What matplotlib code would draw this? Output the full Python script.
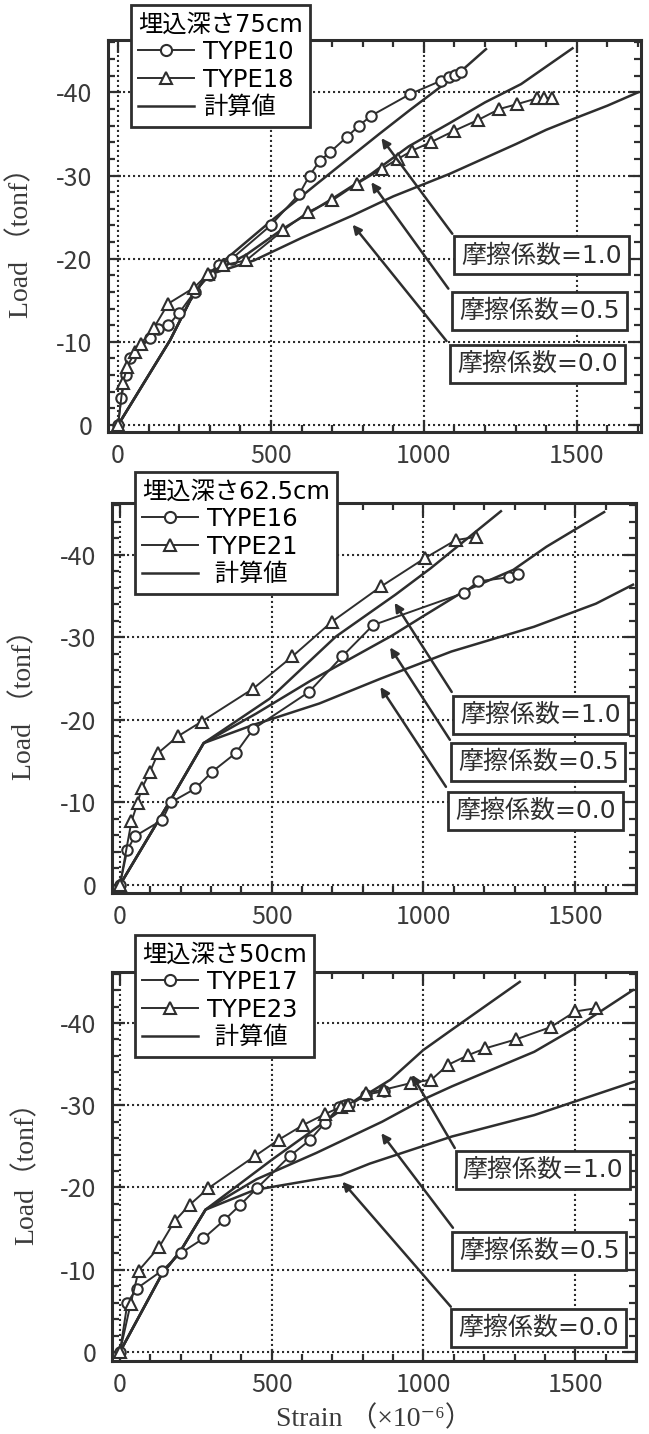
import matplotlib
matplotlib.use('Agg')
import matplotlib.pyplot as plt
from matplotlib.lines import Line2D
from matplotlib.ticker import MultipleLocator
from matplotlib.font_manager import FontProperties

# 1. DATA INPUT (strain x10^-6, load tonf; loads are negative = compression)

# --- panel 1: 埋込深さ75cm ---
p1_a_strain = [0, 10, 25, 40, 105, 131, 164, 200, 250, 300, 330, 372, 499, 593, 626, 660, 693, 747, 788, 828, 955, 1056, 1083, 1103, 1123]
p1_a_load = [0, -3.2, -6, -8, -10.5, -11.5, -12, -13.5, -16, -18, -19.2, -20, -24, -27.8, -30, -31.8, -32.8, -34.6, -36, -37.2, -39.8, -41.4, -41.8, -42.1, -42.4]
p1_b_strain = [0, 16, 29, 56, 75, 117, 164, 248, 295, 342, 419, 539, 620, 700, 781, 862, 915, 962, 1022, 1100, 1178, 1247, 1306, 1371, 1394, 1420]
p1_b_load = [0, -5, -7, -8.8, -9.8, -11.7, -14.6, -16.5, -18.2, -19.2, -19.8, -23.4, -25.6, -27, -29, -30.8, -32, -33, -34, -35.4, -36.7, -38, -38.6, -39.3, -39.3, -39.3]
p1_mu10_strain = [0, 170, 236, 290, 499, 650, 854, 955, 1063, 1123, 1203]
p1_mu10_load = [0, -10.2, -15, -18, -24.5, -29, -35, -37.9, -40.9, -42.6, -45.2]
p1_mu05_strain = [0, 170, 236, 290, 420, 539, 700, 828, 950, 1084, 1200, 1318, 1486]
p1_mu05_load = [0, -10.2, -15, -18, -20.5, -23.6, -27.2, -30.2, -33.5, -36.3, -38.8, -41, -45.3]
p1_mu00_strain = [0, 170, 236, 290, 445, 600, 767, 900, 1084, 1302, 1400, 1502, 1600, 1700]
p1_mu00_load = [0, -10.2, -15, -18, -19.8, -22.5, -25.2, -27.5, -30.2, -33.8, -35.5, -37, -38.4, -40]

# --- panel 2: 埋込深さ62.5cm ---
p2_a_strain = [0, 24, 49, 140, 167, 249, 303, 382, 439, 623, 732, 834, 1133, 1180, 1282, 1312]
p2_a_load = [0, -4.2, -5.9, -7.9, -10, -11.7, -13.7, -16, -18.9, -23.4, -27.7, -31.5, -35.4, -36.8, -37.3, -37.7]
p2_b_strain = [0, 38, 58, 72, 99, 126, 190, 269, 439, 568, 698, 861, 1004, 1106, 1174]
p2_b_load = [0, -7.7, -9.9, -11.7, -13.7, -16, -18, -19.8, -23.8, -27.7, -31.9, -36.2, -39.6, -41.8, -42.2]
p2_mu10_strain = [0, 167, 276, 494, 711, 908, 1024, 1255]
p2_mu10_load = [0, -10.3, -17.2, -22.6, -30.1, -35.2, -38.4, -45.3]
p2_mu05_strain = [0, 167, 276, 450, 630, 895, 1000, 1133, 1296, 1405, 1595]
p2_mu05_load = [0, -10.3, -17.2, -20.8, -24.8, -30.2, -32.6, -35.6, -38.2, -41, -45.2]
p2_mu00_strain = [0, 167, 276, 439, 657, 858, 1092, 1364, 1568, 1690]
p2_mu00_load = [0, -10.3, -17.2, -19.4, -22, -25, -28.3, -31.3, -34.1, -36.4]

# --- panel 3: 埋込深さ50cm ---
p3_a_strain = [0, 25, 55, 139, 200, 275, 343, 397, 451, 559, 627, 674, 722, 740, 755, 810, 871]
p3_a_load = [0, -6, -7.7, -9.9, -12, -13.8, -16, -17.9, -19.9, -23.8, -25.8, -27.8, -29.8, -30, -30.1, -31.3, -31.7]
p3_b_strain = [0, 35, 62, 130, 180, 230, 291, 444, 523, 604, 674, 728, 750, 810, 871, 959, 1026, 1080, 1148, 1202, 1304, 1419, 1500, 1568]
p3_b_load = [0, -5.8, -9.9, -12.8, -15.9, -17.9, -19.9, -23.8, -25.8, -27.6, -28.9, -29.8, -30, -31.5, -31.9, -32.7, -33.1, -34.9, -36.1, -36.9, -38, -39.5, -41.4, -41.8]
p3_mu10_strain = [0, 139, 200, 282, 498, 728, 891, 999, 1094, 1317]
p3_mu10_load = [0, -9.5, -12.3, -17.3, -23.3, -29.4, -33.1, -36.7, -39.2, -45]
p3_mu05_strain = [0, 139, 200, 282, 450, 647, 864, 999, 1094, 1365, 1500, 1690]
p3_mu05_load = [0, -9.5, -12.3, -17.3, -21, -24.2, -28, -30.7, -32.3, -36.5, -39.4, -44]
p3_mu00_strain = [0, 139, 200, 282, 444, 728, 823, 1094, 1365, 1697]
p3_mu00_load = [0, -9.5, -12.3, -17.3, -19.7, -21.5, -22.9, -26.2, -28.8, -32.9]

mu_labels = ['摩擦係数=1.0', '摩擦係数=0.5', '摩擦係数=0.0']
x_ticks = [0, 500, 1000, 1500]
y_ticks = [0, -10, -20, -30, -40]

# 2. PLOTTING SETUP
plt.rcParams['axes.unicode_minus'] = False
plt.rcParams['font.family'] = ['DejaVu Sans', 'Noto Sans CJK JP']
INK = '#2e2e2e'
W, H = 649, 1434
fig = plt.figure(figsize=(W / 100, H / 100), dpi=100)
fig.patch.set_facecolor('white')

leg_font = FontProperties(family=['DejaVu Sans', 'Noto Sans CJK JP'], size=17.5)
box_font = FontProperties(family=['DejaVu Sans', 'Noto Sans CJK JP'], size=18)
tick_family = ['Noto Sans CJK JP', 'DejaVu Sans']
serif_family = ['Liberation Serif', 'Noto Sans CJK JP', 'DejaVu Sans']


def px_rect(l, t, r, b):
    return [l / W, 1 - b / H, (r - l) / W, (b - t) / H]


panels = [
    dict(rect=px_rect(108, 40, 641, 432), xlim=(-33, 1710), ylim=(0.84, -46.3),
         title='埋込深さ75cm', names=['TYPE10', 'TYPE18', '計算値'],
         a=(p1_a_strain, p1_a_load), b=(p1_b_strain, p1_b_load),
         calc=[(p1_mu10_strain, p1_mu10_load), (p1_mu05_strain, p1_mu05_load), (p1_mu00_strain, p1_mu00_load)],
         leg=(131, 5), ylabel='Load （tonf）', ylab_x=-0.139,
         tips=[(861, -34.5), (828, -29.2), (767, -24.1)],
         tails=[(1093, -23), (1080, -16.4), (1074, -10.1)],
         boxes=[(1385, -20.4), (1378, -13.7), (1372, -7.3)]),
    dict(rect=px_rect(112, 503, 636, 893), xlim=(-26, 1700), ylim=(0.97, -46.3),
         title='埋込深さ62.5cm', names=['TYPE16', 'TYPE21', ' 計算値'],
         a=(p2_a_strain, p2_a_load), b=(p2_b_strain, p2_b_load),
         calc=[(p2_mu10_strain, p2_mu10_load), (p2_mu05_strain, p2_mu05_load), (p2_mu00_strain, p2_mu00_load)],
         leg=(135, 472), ylabel='Load （tonf）', ylab_x=-0.143,
         tips=[(905, -34.2), (890, -28.8), (858, -24)],
         tails=[(1093, -23.4), (1087, -17.6), (1074, -11.9)],
         boxes=[(1385, -20.6), (1378, -14.9), (1368, -9.0)]),
    dict(rect=px_rect(112, 972, 636, 1361), xlim=(-26, 1700), ylim=(1.1, -46.2),
         title='埋込深さ50cm', names=['TYPE17', 'TYPE23', ' 計算値'],
         a=(p3_a_strain, p3_a_load), b=(p3_b_strain, p3_b_load),
         calc=[(p3_mu10_strain, p3_mu10_load), (p3_mu05_strain, p3_mu05_load), (p3_mu00_strain, p3_mu00_load)],
         leg=(135, 935), ylabel='Load（tonf）', ylab_x=-0.139,
         tips=[(962, -33.7), (861, -26.6), (733, -20.7)],
         tails=[(1103, -24.8), (1097, -15.1), (1090, -5.5)],
         boxes=[(1394, -22.1), (1381, -12.3), (1378, -2.9)]),
]

# 3. PLOT GENERATION
for i, p in enumerate(panels):
    ax = fig.add_axes(p['rect'])
    ax.set_facecolor('white')

    # calculated curves
    for xs, ys in p['calc']:
        ax.plot(xs, ys, color=INK, lw=1.8, zorder=3)

    # measured series
    ax.plot(*p['a'], color=INK, lw=1.4, marker='o', ms=7.5, mfc='white', mec=INK, mew=1.5, zorder=4)
    ax.plot(*p['b'], color=INK, lw=1.4, marker='^', ms=8, mfc='white', mec=INK, mew=1.5, zorder=4)

    # arrows + labelled boxes
    for tip, tail, box, lab in zip(p['tips'], p['tails'], p['boxes'], mu_labels):
        ax.annotate('', xy=tip, xytext=tail,
                    arrowprops=dict(arrowstyle='-|>', color=INK, lw=1.8, mutation_scale=13, shrinkA=0, shrinkB=0),
                    zorder=5)
        ax.text(box[0], box[1], lab, ha='center', va='center', fontproperties=box_font, color=INK, zorder=6,
                bbox=dict(boxstyle='square,pad=0.28', fc='white', ec=INK, lw=2))

    # 4. CUSTOMIZATION
    ax.set_xlim(*p['xlim'])
    ax.set_ylim(*p['ylim'])
    ax.set_xticks(x_ticks)
    ax.set_yticks(y_ticks)
    ax.xaxis.set_minor_locator(MultipleLocator(100))
    ax.yaxis.set_minor_locator(MultipleLocator(2))
    ax.tick_params(which='both', direction='in', top=True, right=True, colors=INK, width=1.6)
    ax.tick_params(which='major', length=9, labelsize=18, pad=8)
    ax.tick_params(axis='y', which='major', pad=11)
    ax.tick_params(which='minor', length=5)
    for lab in ax.get_xticklabels() + ax.get_yticklabels():
        lab.set_fontfamily(tick_family)
        lab.set_color('#3a3a3a')
    for s in ax.spines.values():
        s.set_linewidth(2.2)
        s.set_color(INK)
    ax.grid(True, which='major', linestyle=(0, (1, 1.4)), color=INK, lw=1.5)
    ax.set_axisbelow(True)

    ax.set_ylabel(p['ylabel'], family=serif_family, fontsize=20, color='#3a3a3a')
    ax.yaxis.set_label_coords(p['ylab_x'], 0.5)

    handles = [
        Line2D([], [], color=INK, lw=1.4, marker='o', ms=8, mfc='white', mec=INK, mew=1.5),
        Line2D([], [], color=INK, lw=1.4, marker='^', ms=8, mfc='white', mec=INK, mew=1.5),
        Line2D([], [], color=INK, lw=1.8),
    ]
    leg = ax.legend(handles, p['names'], title=p['title'], loc='upper left',
                    bbox_to_anchor=(p['leg'][0] / W, 1 - p['leg'][1] / H), bbox_transform=fig.transFigure,
                    prop=leg_font, title_fontproperties=leg_font, alignment='left',
                    frameon=True, fancybox=False, framealpha=1, edgecolor=INK,
                    borderaxespad=0, borderpad=0.3, labelspacing=0.15, handlelength=2.3,
                    handletextpad=0.35)
    leg.get_frame().set_linewidth(2)
    leg.set_zorder(10)

ax.set_xlabel('Strain （×10⁻⁶）', family=serif_family, fontsize=20, color='#3a3a3a')
ax.xaxis.set_label_coords(0.5, -0.115)

plt.savefig('out.png', dpi=100, facecolor='white')
